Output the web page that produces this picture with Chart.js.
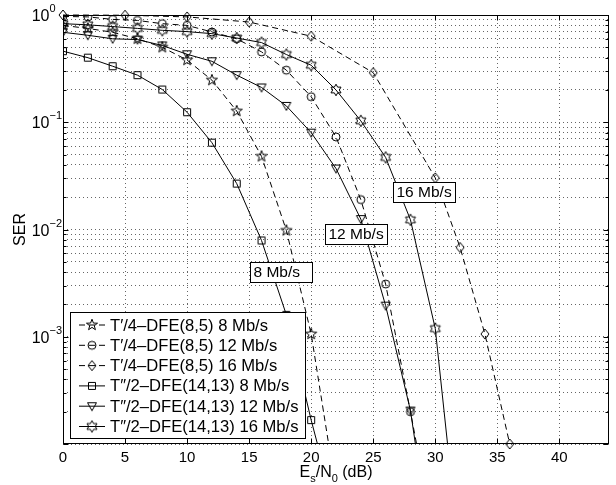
<!DOCTYPE html>
<html>
<head>
<meta charset="utf-8">
<script src="https://cdn.jsdelivr.net/npm/chart.js@4/dist/chart.umd.min.js"></script>
<style>
  body { margin: 0; background: #fff; }
</style>
</head>
<body>
<canvas id="serChart" width="616" height="485"></canvas>
<script>
// Es/N0 in dB where the markers sit
const snr = [0, 2, 4, 6, 8, 10, 12, 14, 16, 18, 20, 22, 24, 26, 28, 30, 32];
const snrDiamond = [0, 5, 10, 15, 20, 25, 30, 32, 34, 36];

// SER
const serT4Rate8 = [0.80, 0.75, 0.69, 0.60, 0.50, 0.38, 0.247, 0.127, 0.048, 0.0098, 1.06e-3, 3.7e-5];
const serT4Rate12 = [0.97, 0.96, 0.91, 0.89, 0.83, 0.80, 0.695, 0.60, 0.453, 0.306, 0.173, 0.073, 0.019, 3.1e-3, 2.0e-4, 1.2e-5];
const serT4Rate16 = [1.0, 0.995, 0.96, 0.86, 0.634, 0.29, 0.0303, 6.8e-3, 1.06e-3, 1.0e-4];
const serT2Rate8 = [0.46, 0.40, 0.333, 0.275, 0.202, 0.124, 0.0645, 0.0268, 0.0079, 1.6e-3, 1.67e-4, 2.2e-5];
const serT2Rate12 = [0.69, 0.647, 0.60, 0.59, 0.52, 0.43, 0.37, 0.275, 0.211, 0.142, 0.080, 0.037, 0.0125, 1.95e-3, 2.05e-4, 5.6e-6];
const serT2Rate16 = [0.83, 0.81, 0.78, 0.75, 0.72, 0.70, 0.67, 0.61, 0.553, 0.428, 0.34, 0.20, 0.103, 0.047, 0.0123, 1.19e-3, 8e-6];

const seriesLabels = [
  'T\u2032/4\u2013DFE(8,5) 8 Mb/s',
  'T\u2032/4\u2013DFE(8,5) 12 Mb/s',
  'T\u2032/4\u2013DFE(8,5) 16 Mb/s',
  'T\u2033/2\u2013DFE(14,13) 8 Mb/s',
  'T\u2033/2\u2013DFE(14,13) 12 Mb/s',
  'T\u2033/2\u2013DFE(14,13) 16 Mb/s'
];

const xTicks = [0, 5, 10, 15, 20, 25, 30, 35, 40];
const yDecades = [-4, -3, -2, -1, 0];
const yLabelDecades = [0, -1, -2, -3];

const rateNotes = ['8 Mb/s', '12 Mb/s', '16 Mb/s'];
const rateNoteAt = [[15.1, 4.0e-3], [21.1, 9.1e-3], [26.6, 2.24e-2]];

const FONT = '"Liberation Sans", Arial, Helvetica, sans-serif';

// hollow matlab-ish markers
function marker(kind) {
  const c = document.createElement('canvas');
  c.width = 14; c.height = 14;
  const g = c.getContext('2d');
  const m = 7;
  g.strokeStyle = '#000';
  g.lineWidth = 1;
  g.beginPath();
  if (kind === 'square') {
    g.rect(m - 3.5, m - 3.5, 7, 7);
  } else if (kind === 'circle') {
    g.arc(m, m, 4, 0, Math.PI * 2);
  } else if (kind === 'diamond') {
    g.moveTo(m, m - 5); g.lineTo(m + 4, m); g.lineTo(m, m + 5); g.lineTo(m - 4, m);
    g.closePath();
  } else if (kind === 'triangle') {
    g.moveTo(m - 4.5, m - 3.5); g.lineTo(m + 4.5, m - 3.5); g.lineTo(m, m + 4.5);
    g.closePath();
  } else {
    const n = kind === 'pentagram' ? 5 : 6;
    const r1 = 5.8, r2 = n === 5 ? 2.4 : 3.3;
    for (let i = 0; i < 2 * n; i++) {
      const a = -Math.PI / 2 + i * Math.PI / n;
      const r = i % 2 ? r2 : r1;
      const px = m + r * Math.cos(a), py = m + r * Math.sin(a);
      if (i) g.lineTo(px, py); else g.moveTo(px, py);
    }
    g.closePath();
  }
  g.stroke();
  return c;
}

function series(label, xs, ys, kind, dashed, extra) {
  return Object.assign({
    label: label,
    data: ys.map((y, i) => ({ x: xs[i], y: y })),
    borderColor: '#000',
    borderWidth: 1,
    borderDash: dashed ? [6, 4] : [],
    pointStyle: marker(kind),
    pointRadius: 5,
    tension: 0,
    fill: false
  }, extra || {});
}

const datasets = [
  series(seriesLabels[0], snr, serT4Rate8, 'pentagram', true),
  series(seriesLabels[1], snr, serT4Rate12, 'circle', true),
  series(seriesLabels[2], snrDiamond, serT4Rate16, 'diamond', true, { clip: false }),
  series(seriesLabels[3], snr, serT2Rate8, 'square', false),
  series(seriesLabels[4], snr, serT2Rate12, 'triangle', false),
  series(seriesLabels[5], snr, serT2Rate16, 'hexagram', false)
];

const yGrid = [];
yDecades.forEach(e => {
  const top = e === 0 ? 1 : 9;
  for (let k = 1; k <= top; k++) yGrid.push(k * Math.pow(10, e));
});

const decor = {
  id: 'decor',
  afterDatasetsDraw(chart) {
    const ctx = chart.ctx;
    const a = chart.chartArea;
    const xs = chart.scales.x, ys = chart.scales.y;
    const L = Math.round(a.left) + 0.5, R = Math.round(a.right) - 0.5;
    const T = Math.round(a.top) + 0.5, B = Math.round(a.bottom) - 0.5;
    ctx.save();
    ctx.strokeStyle = '#000';
    ctx.lineWidth = 1;
    ctx.setLineDash([]);

    // inward ticks
    ctx.beginPath();
    xTicks.forEach(v => {
      const px = Math.round(xs.getPixelForValue(v)) + 0.5;
      ctx.moveTo(px, B); ctx.lineTo(px, B - 5);
      ctx.moveTo(px, T); ctx.lineTo(px, T + 5);
    });
    yGrid.forEach(v => {
      const py = Math.round(ys.getPixelForValue(v)) + 0.5;
      const len = Math.abs(Math.log10(v) % 1) < 1e-9 ? 5 : 3;
      ctx.moveTo(L, py); ctx.lineTo(L + len, py);
      ctx.moveTo(R, py); ctx.lineTo(R - len, py);
    });
    ctx.stroke();

    // frame
    ctx.strokeRect(L, T, R - L, B - T);

    // rate notes
    ctx.font = '15.5px ' + FONT;
    ctx.textBaseline = 'middle';
    ctx.textAlign = 'left';
    rateNotes.forEach((txt, i) => {
      const bx = Math.round(xs.getPixelForValue(rateNoteAt[i][0])) + 0.5;
      const by = Math.round(ys.getPixelForValue(rateNoteAt[i][1])) - 10 + 0.5;
      ctx.fillStyle = '#fff';
      ctx.fillRect(bx, by, 62, 20);
      ctx.strokeRect(bx, by, 62, 20);
      ctx.fillStyle = '#000';
      ctx.fillText(txt, bx + 3, by + 10.5);
    });

    // legend
    const lx = 70.5, ly = 312.5, lw = 235, lh = 126;
    ctx.fillStyle = '#fff';
    ctx.fillRect(lx, ly, lw, lh);
    ctx.strokeRect(lx, ly, lw, lh);
    ctx.font = '16.6px ' + FONT;
    chart.data.datasets.forEach((ds, i) => {
      const cy = ly + 12.5 + i * 20.3;
      ctx.setLineDash(ds.borderDash);
      ctx.beginPath();
      ctx.moveTo(79, cy); ctx.lineTo(105, cy);
      ctx.stroke();
      ctx.setLineDash([]);
      ctx.drawImage(ds.pointStyle, 92 - 7, cy - 7);
      ctx.fillStyle = '#000';
      ctx.fillText(ds.label, 110, cy + 1);
    });
    ctx.restore();
  },
  afterDraw(chart) {
    const ctx = chart.ctx;
    const a = chart.chartArea;
    const ys = chart.scales.y;
    ctx.save();
    ctx.fillStyle = '#000';

    // y tick labels 10^n
    yLabelDecades.forEach(e => {
      const py = ys.getPixelForValue(Math.pow(10, e));
      ctx.font = '16px ' + FONT;
      ctx.textAlign = 'right';
      ctx.textBaseline = 'alphabetic';
      ctx.fillText('10', 49.5, py + 6);
      ctx.font = '11px ' + FONT;
      ctx.textAlign = 'left';
      ctx.fillText(e === 0 ? '0' : '\u2212' + (-e), 49.5, py - 3);
    });

    // y title
    ctx.save();
    ctx.translate(21, (a.top + a.bottom) / 2);
    ctx.rotate(-Math.PI / 2);
    ctx.font = '16px ' + FONT;
    ctx.textAlign = 'center';
    ctx.textBaseline = 'middle';
    ctx.fillText('SER', 0, 0);
    ctx.restore();

    // x title with subscripts
    const parts = [['E', 16, 0], ['s', 11, 5], ['/N', 16, 0], ['0', 11, 5], [' (dB)', 16, 0]];
    let total = 0;
    parts.forEach(p => { ctx.font = p[1] + 'px ' + FONT; total += ctx.measureText(p[0]).width; });
    let x = (a.left + a.right) / 2 - total / 2;
    ctx.textAlign = 'left';
    ctx.textBaseline = 'alphabetic';
    parts.forEach(p => {
      ctx.font = p[1] + 'px ' + FONT;
      ctx.fillText(p[0], x, 477 + p[2]);
      x += ctx.measureText(p[0]).width;
    });
    ctx.restore();
  }
};

Chart.defaults.font.family = FONT;

new Chart(document.getElementById('serChart'), {
  type: 'line',
  data: { datasets: datasets },
  options: {
    responsive: false,
    animation: false,
    events: [],
    layout: { padding: { top: 15, right: 7, left: 0, bottom: 0 } },
    plugins: { legend: { display: false }, tooltip: { enabled: false } },
    scales: {
      x: {
        type: 'linear',
        min: 0,
        max: 44,
        afterBuildTicks: s => { s.ticks = xTicks.map(v => ({ value: v })); },
        afterFit: s => { s.height = 41; },
        ticks: { color: '#000', font: { size: 15 }, padding: 5, maxRotation: 0, autoSkip: false },
        grid: { color: '#666', lineWidth: 1, drawTicks: false },
        border: { display: false, dash: [1, 3] }
      },
      y: {
        type: 'logarithmic',
        min: 1e-4,
        max: 1,
        afterBuildTicks: s => { s.ticks = yGrid.map(v => ({ value: v })); },
        afterFit: s => { s.width = 63; },
        ticks: { display: false },
        grid: { color: '#666', lineWidth: 1, drawTicks: false },
        border: { display: false, dash: [1, 3] }
      }
    }
  },
  plugins: [decor]
});
</script>
</body>
</html>
